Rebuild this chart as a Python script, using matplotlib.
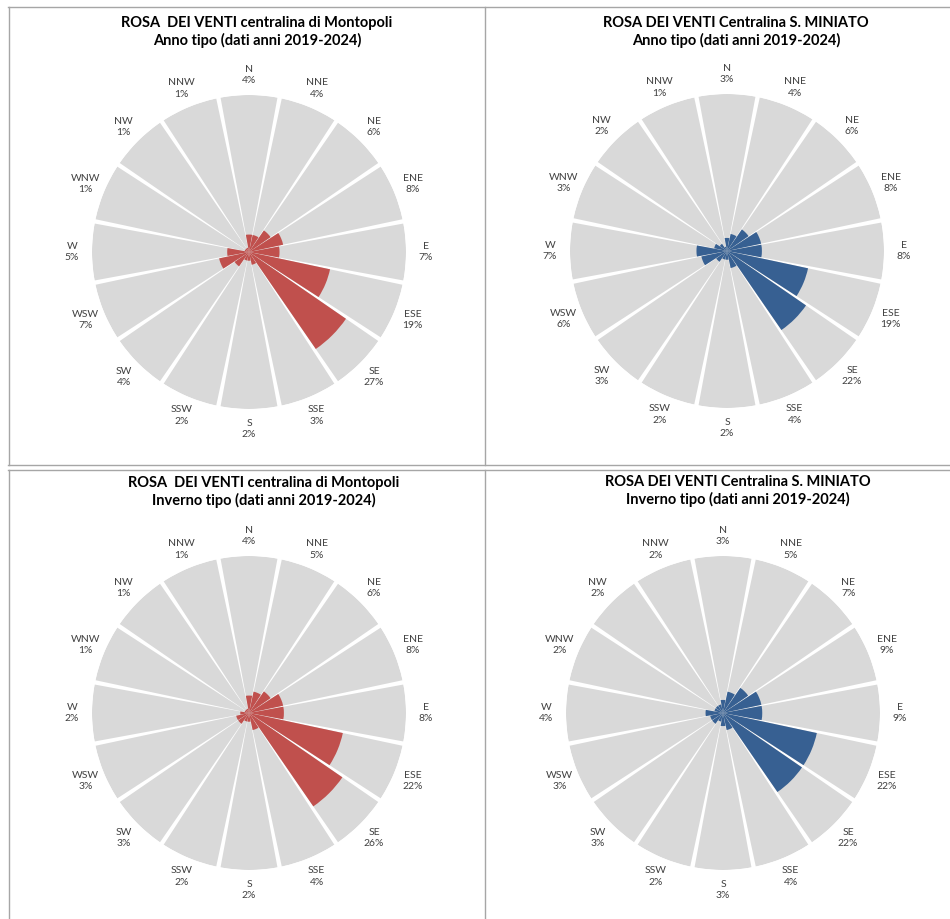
import numpy as np
import matplotlib
matplotlib.use("Agg")
import matplotlib.pyplot as plt
from matplotlib.lines import Line2D

plt.rcParams['font.family'] = ['Lato', 'DejaVu Sans']

directions = ["N", "NNE", "NE", "ENE", "E", "ESE", "SE", "SSE",
              "S", "SSW", "SW", "WSW", "W", "WNW", "NW", "NNW"]

montopoli_anno = [4, 4, 6, 8, 7, 19, 27, 3, 2, 2, 4, 7, 5, 1, 1, 1]
miniato_anno = [3, 4, 6, 8, 8, 19, 22, 4, 2, 2, 3, 6, 7, 3, 2, 1]
montopoli_inverno = [4, 5, 6, 8, 8, 22, 26, 4, 2, 2, 3, 3, 2, 1, 1, 1]
miniato_inverno = [3, 5, 7, 9, 9, 22, 22, 4, 3, 2, 3, 3, 4, 2, 2, 2]

titles = [
    "ROSA  DEI VENTI centralina di Montopoli\nAnno tipo (dati anni 2019-2024)",
    "ROSA DEI VENTI Centralina S. MINIATO\nAnno tipo (dati anni 2019-2024)",
    "ROSA  DEI VENTI centralina di Montopoli\nInverno tipo (dati anni 2019-2024)",
    "ROSA DEI VENTI Centralina S. MINIATO\nInverno tipo (dati anni 2019-2024)",
]
series = [montopoli_anno, miniato_anno, montopoli_inverno, miniato_inverno]
colors = ["#C0504D", "#376092", "#C0504D", "#376092"]

W, H = 950, 919
fig = plt.figure(figsize=(W / 100, H / 100), dpi=100)

R_PX = 157
RMAX = 36.0
centers = [(249, 252), (727, 251), (249, 713), (723, 713)]
title_pos = [(257, 32), (736, 32), (264, 492), (738, 491)]

n = len(directions)
theta = np.arange(n) * 2 * np.pi / n
gap = 0.028
width = 2 * np.pi / n - gap

for k in range(4):
    cx, cy = centers[k]
    left = (cx - R_PX) / W
    bottom = 1 - (cy + R_PX) / H
    ax = fig.add_axes([left, bottom, 2 * R_PX / W, 2 * R_PX / H], projection='polar')
    ax.set_theta_zero_location('N')
    ax.set_theta_direction(-1)
    ax.bar(theta, [RMAX] * n, width=width, color="#D9D9D9", linewidth=0)
    ax.bar(theta, series[k], width=width, color=colors[k], linewidth=0)
    ax.set_ylim(0, RMAX)
    ax.set_xticks([])
    ax.set_yticks([])
    ax.grid(False)
    ax.spines['polar'].set_visible(False)
    ax.patch.set_alpha(0)
    rl = RMAX * 177 / R_PX
    for t, d, v in zip(theta, directions, series[k]):
        ax.text(t, rl, f"{d}\n{v}%", ha='center', va='center', fontsize=7.5,
                color="#404040", linespacing=1.3, clip_on=False)
    tx, ty = title_pos[k]
    fig.text(tx / W, 1 - ty / H, titles[k], ha='center', va='center',
             fontsize=10.5, fontweight='bold', color="#000000", linespacing=1.3)

def hline(x0, x1, y):
    fig.add_artist(Line2D([x0 / W, x1 / W], [1 - y / H, 1 - y / H],
                          color="#A6A6A6", lw=1.0))

def vline(x, y0, y1):
    fig.add_artist(Line2D([x / W, x / W], [1 - y0 / H, 1 - y1 / H],
                          color="#A6A6A6", lw=1.0))

# top row boxes
hline(8, 950, 7)
hline(8, 950, 465.5)
vline(8.5, 7, 465.5)
vline(485.5, 7, 465.5)
# bottom row boxes
hline(8, 950, 470.5)
vline(8.5, 470.5, 919)
vline(485.5, 470.5, 919)

fig.savefig("out.png", dpi=100)
